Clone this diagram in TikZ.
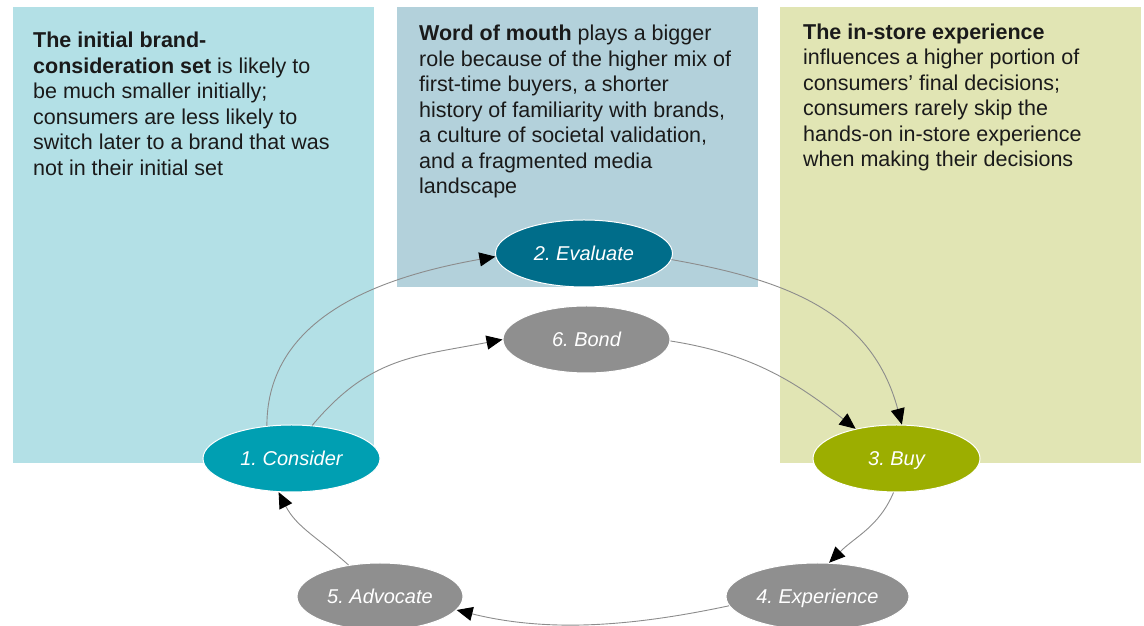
\documentclass[tikz,border=0pt]{standalone}
\usepackage{fontspec}
\setmainfont{Liberation Sans}
\usetikzlibrary{arrows.meta,shapes.geometric}
\definecolor{panelA}{HTML}{B3E0E6}
\definecolor{panelB}{HTML}{B3D1DB}
\definecolor{panelC}{HTML}{E1E5B4}
\definecolor{consC}{HTML}{009FB2}
\definecolor{evalC}{HTML}{006D8A}
\definecolor{buyC}{HTML}{9CAE00}
\definecolor{greyC}{HTML}{8F8F8F}
\definecolor{lineC}{HTML}{8C8C8C}
\definecolor{txtC}{HTML}{1A1A1A}
\begin{document}
\frenchspacing
\begin{tikzpicture}[x=1pt,y=1pt,
  stage/.style={ellipse, draw=white, line width=1pt, inner sep=0pt, minimum height=67pt,
    text height=14.6pt, text depth=0pt,
    text=white, font=\fontsize{20}{24}\selectfont\itshape},
  link/.style={draw=lineC, line width=0.9pt, -{Triangle[length=16pt,width=14pt,color=black]}},
  ptext/.style={anchor=north west, inner sep=0pt, align=left, text=txtC,
    font=\fontsize{21.5}{25.5}\selectfont}]
\useasboundingbox (0,0) rectangle (1144,626);
% panels
\fill[panelA] (13,163) rectangle (374,619);
\fill[panelB] (397,339) rectangle (758,619);
\fill[panelC] (780,163) rectangle (1141,619);
% panel texts
\node[ptext] (tA) at (33,594) {\textbf{The initial brand-}\\\textbf{consideration set} is likely to\\be much smaller initially;\\consumers are less likely to\\switch later to a brand that was\\not in their initial set};
\node[ptext] (tB) at (419,601) {\textbf{Word of mouth} plays a bigger\\role because of the higher mix of\\first-time buyers, a shorter\\history of familiarity with brands,\\a culture of societal validation,\\and a fragmented media\\landscape};
\node[ptext] (tC) at (803,602.4) {\textbf{The in-store experience}\\influences a higher portion of\\consumers’ final decisions;\\consumers rarely skip the\\hands-on in-store experience\\when making their decisions};
% stages
\node[stage, fill=consC, minimum width=177pt] (c) at (291.5,167.5) {1. Consider};
\node[stage, fill=evalC, minimum width=177pt] (e) at (584,372.5) {2. Evaluate};
\node[stage, fill=greyC, minimum width=167pt] (b) at (586.5,286.5) {6. Bond};
\node[stage, fill=buyC, minimum width=167pt] (y) at (896.5,167.5) {3. Buy};
\node[stage, fill=greyC, minimum width=183pt] (x) at (817.5,29.5) {4. Experience};
\node[stage, fill=greyC, minimum width=166pt] (a) at (380,29.5) {5. Advocate};
% connectors
\draw[link] (c.127) to[out=90,in=190] (e.182);
\draw[link] (e.-4) to[out=-10,in=105,looseness=1.05] (y.81);
\draw[link] (c.58) to[out=50,in=191,looseness=1.1] (b.west);
\draw[link] (b.-1) to[out=-9,in=142] (y.144);
\draw[link] (y.-95) to[out=-113,in=45] (x.71);
\draw[link] (x.186) to[out=192,in=-14,looseness=0.9] (a.-10);
\draw[link] (a.135) to[out=138,in=-63] (c.-111);
\end{tikzpicture}
\end{document}
